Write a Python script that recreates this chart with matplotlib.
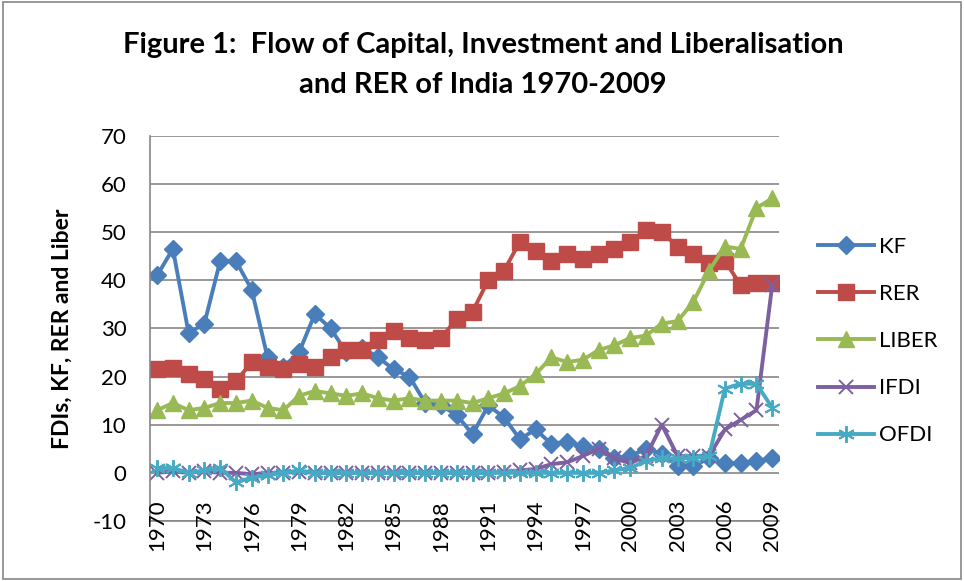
import numpy as np
import matplotlib
matplotlib.use("Agg")
from matplotlib import pyplot as plt
from matplotlib.patches import Rectangle
from matplotlib import transforms

plt.rcParams['font.family'] = ['Lato', 'DejaVu Sans']
plt.rcParams['axes.unicode_minus'] = False

years = list(range(1970, 2010))

kf = [41, 46.5, 29, 31, 44, 44, 38, 24, 22, 25,
      33, 30, 25, 26, 24, 21.5, 20, 14.5, 14, 12,
      8, 14, 11.5, 7, 9, 6, 6.5, 5.5, 5, 3,
      3.5, 5, 4, 1.5, 1.5, 3, 2, 2, 2.5, 3]
rer = [21.5, 21.7, 20.5, 19.5, 17.5, 19, 23, 22, 21.5, 22.5,
       22, 24, 25.5, 25.5, 27.5, 29.5, 28, 27.5, 28, 32,
       33.5, 40, 42, 48, 46, 44, 45.5, 44.5, 45.5, 46.5,
       48, 50.5, 50, 47, 45.5, 43.5, 44, 39, 39.5, 39.5]
liber = [13, 14.5, 13, 13.5, 14.5, 14.5, 15, 13.5, 13, 16,
         17, 16.5, 16, 16.5, 15.5, 15, 15.5, 15, 15, 15,
         14.5, 15.5, 16.5, 18, 20.5, 24, 23, 23.5, 25.5, 26.5,
         28, 28.5, 31, 31.5, 35.5, 42, 47, 46.5, 55, 57]
ifdi = [0, 0.3, 0, 0.3, 0, 0, -0.3, 0, 0, 0.2,
        0, 0, 0, 0, 0, 0, 0, 0, 0, 0,
        0, 0, 0.2, 0.5, 0.8, 1.8, 2.2, 3.5, 5, 3,
        2, 3.5, 10, 3.5, 3.5, 3.5, 9, 11, 13, 39]
ofdi = [1, 1, 0, 0.5, 1, -2, -1, -0.5, 0, 0.5,
        0, 0, 0, 0, 0, 0, 0, 0, 0, 0,
        0, 0, 0, 0, 0, 0, 0, 0, 0, 0.5,
        1, 2.5, 3, 3, 3, 3.5, 17.5, 18.5, 18.5, 13.5]

colors = ["#4A7EBB", "#BE4B48", "#98B954", "#7D60A0", "#46AAC5"]

fig = plt.figure(figsize=(9.64, 5.81), dpi=100)
ax = fig.add_axes([0.1556, 0.1033, 0.652, 0.663])

ax.plot(years, kf, color=colors[0], lw=2.8, marker='D', ms=9, label="KF")
ax.plot(years, rer, color=colors[1], lw=2.8, marker='s', ms=12, label="RER")
ax.plot(years, liber, color=colors[2], lw=2.8, marker='^', ms=11, label="LIBER")
ax.plot(years, ifdi, color=colors[3], lw=2.8, marker='x', ms=10, mew=1.4, label="IFDI")
ax.plot(years, ofdi, color=colors[4], lw=2.8, marker=(6, 2, 0), ms=12, mew=1.4, label="OFDI")

ax.set_xlim(1969.55, 2009.4)
ax.set_ylim(-10, 70)
ax.set_yticks(range(-10, 71, 10))
ax.set_xticks(years[::3])
ax.set_xticklabels([])
# year labels sit a little under the zero line, as in the original
trans = transforms.blended_transform_factory(ax.transData, ax.transAxes)
for y in years[::3]:
    ax.text(y, 0.055, str(y), transform=trans, rotation=90, ha='center', va='top',
            fontsize=16, clip_on=False)
for lbl in ax.get_yticklabels():
    lbl.set_fontsize(16)
ax.tick_params(axis='x', length=0)
ax.tick_params(axis='y', length=0, pad=17)
ax.grid(axis='y', color='#868686', lw=1.2)
ax.grid(axis='x', visible=False)
ax.set_axisbelow(True)
for s in ['top', 'right']:
    ax.spines[s].set_visible(False)
ax.spines['left'].set_color('#868686')
ax.spines['bottom'].set_color('#868686')
ax.spines['left'].set_linewidth(1.2)
ax.spines['bottom'].set_linewidth(1.2)

ax.set_ylabel("FDIs, KF, RER and Liber", fontsize=16.5, fontweight='bold', labelpad=14)

fig.text(0.501, 0.922, "Figure 1:  Flow of Capital, Investment and Liberalisation",
         ha='center', va='center', fontsize=21, fontweight='bold')
fig.text(0.501, 0.853, "and RER of India 1970-2009",
         ha='center', va='center', fontsize=21, fontweight='bold')

leg = fig.legend(loc='upper left', bbox_to_anchor=(0.8485, 0.592), frameon=False,
                 fontsize=16, labelspacing=1.22, handlelength=2.5, handletextpad=0.25,
                 borderpad=0, borderaxespad=0)

fig.add_artist(Rectangle((0.003, 0.004), 0.994, 0.992, transform=fig.transFigure,
                         fill=False, edgecolor='#868686', lw=1.2))

fig.savefig("out.png", dpi=100)
